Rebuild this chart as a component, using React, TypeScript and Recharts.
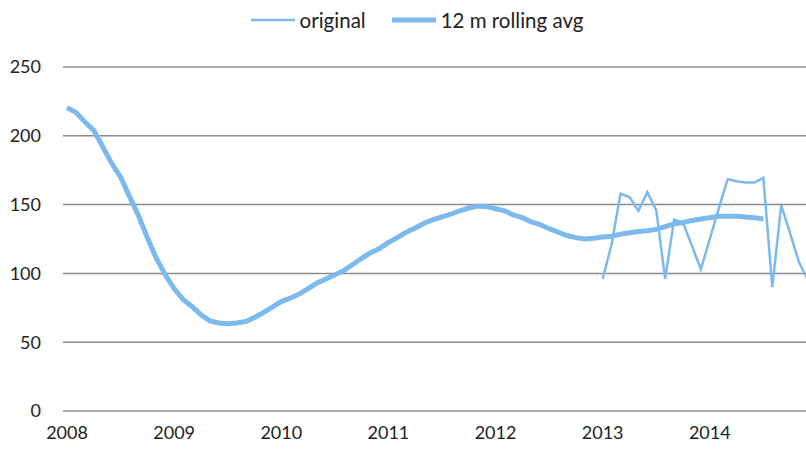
import React from 'react';
import { LineChart, Line, XAxis, YAxis, CartesianGrid, Legend } from 'recharts';

// monthly index, Jan 2008 = 0 ... Dec 2014 = 83
const yearTicks = [0, 12, 24, 36, 48, 60, 72];
const yearLabels = ['2008', '2009', '2010', '2011', '2012', '2013', '2014'];
const yTicks = [0, 50, 100, 150, 200, 250];

// 12 m rolling avg, Jan 2008 .. Jul 2014
const rollingAvg = [
    220.5, 217, 210, 204, 192, 180, 170, 156, 142, 126, 111, 99,
    89, 81, 76, 70, 65.5, 64, 63.5, 64, 65, 68, 71.5, 75.5,
    79.5, 82, 85, 89, 93, 96, 99, 102, 106.5, 111, 115, 118,
    122.5, 126, 130, 133, 136.5, 139, 141, 143, 145.5, 147.5, 149, 148.5,
    147, 145.5, 142.5, 140.5, 137.5, 135.5, 132.5, 130, 127.5, 126, 125, 125.5,
    126.5, 127, 128.5, 129.5, 130.5, 131, 132, 134, 136, 137, 138.5, 139.5,
    140.5, 141.5, 141.5, 141.5, 141, 140.5, 139.5,
];

// original, Jan 2013 .. Dec 2014
const originalStart = 60;
const original = [
    96, 121, 158, 155.5, 145.5, 159, 146, 96, 139, 137, 120, 103,
    125, 147, 168.5, 167, 166, 166, 169.5, 90, 149.5, 129, 108, 95,
];

const data = Array.from({ length: 84 }, (_, i) => ({
    month: i,
    avg: i < rollingAvg.length ? rollingAvg[i] : null,
    original: i >= originalStart ? original[i - originalStart] : null,
}));

const BLUE = '#7cb9ec';
const FONT = 'Lato, "Open Sans", sans-serif';

const LegendContent = () => (
    <div style={{ height: 24, paddingLeft: 28, display: 'flex', justifyContent: 'center', alignItems: 'center', fontFamily: FONT, fontSize: 20.5, color: '#222' }}>
        <svg width={44} height={10} style={{ marginRight: 5 }}>
            <line x1={0} y1={5} x2={44} y2={5} stroke={BLUE} strokeWidth={2.5} />
        </svg>
        <span style={{ marginRight: 26 }}>original</span>
        <svg width={44} height={10} style={{ marginRight: 5 }}>
            <line x1={0} y1={5} x2={44} y2={5} stroke={BLUE} strokeWidth={5} />
        </svg>
        <span>12 m rolling avg</span>
    </div>
);

export default function App() {
    return (
        <div style={{ position: 'absolute', left: 0, top: 0, width: 806, height: 450, overflow: 'hidden', background: '#fff' }}>
            <LineChart
                width={808}
                height={450}
                data={data}
                margin={{ top: 43, right: 0, left: 0, bottom: 0 }}
            >
                <CartesianGrid vertical={false} stroke="#8c8c8c" strokeWidth={1.5} />
                <XAxis
                    dataKey="month"
                    type="number"
                    domain={[-0.45, 83]}
                    ticks={yearTicks}
                    tickFormatter={(v: number) => yearLabels[yearTicks.indexOf(v)]}
                    axisLine={false}
                    tickLine={false}
                    tickSize={0}
                    tickMargin={15}
                    height={39}
                    tick={{ fill: '#222', fontSize: 18, fontFamily: FONT }}
                />
                <YAxis
                    domain={[0, 250]}
                    ticks={yTicks}
                    axisLine={false}
                    tickLine={false}
                    tickSize={0}
                    tickMargin={22}
                    width={63}
                    tick={{ fill: '#222', fontSize: 18, fontFamily: FONT }}
                />
                <Legend
                    verticalAlign="top"
                    content={LegendContent}
                    wrapperStyle={{ top: 8, left: 0, width: 806, height: 24 }}
                />
                <Line
                    dataKey="avg"
                    name="12 m rolling avg"
                    stroke={BLUE}
                    strokeWidth={5}
                    dot={false}
                    isAnimationActive={false}
                />
                <Line
                    dataKey="original"
                    name="original"
                    stroke={BLUE}
                    strokeWidth={2.5}
                    dot={false}
                    isAnimationActive={false}
                />
            </LineChart>
        </div>
    );
}
